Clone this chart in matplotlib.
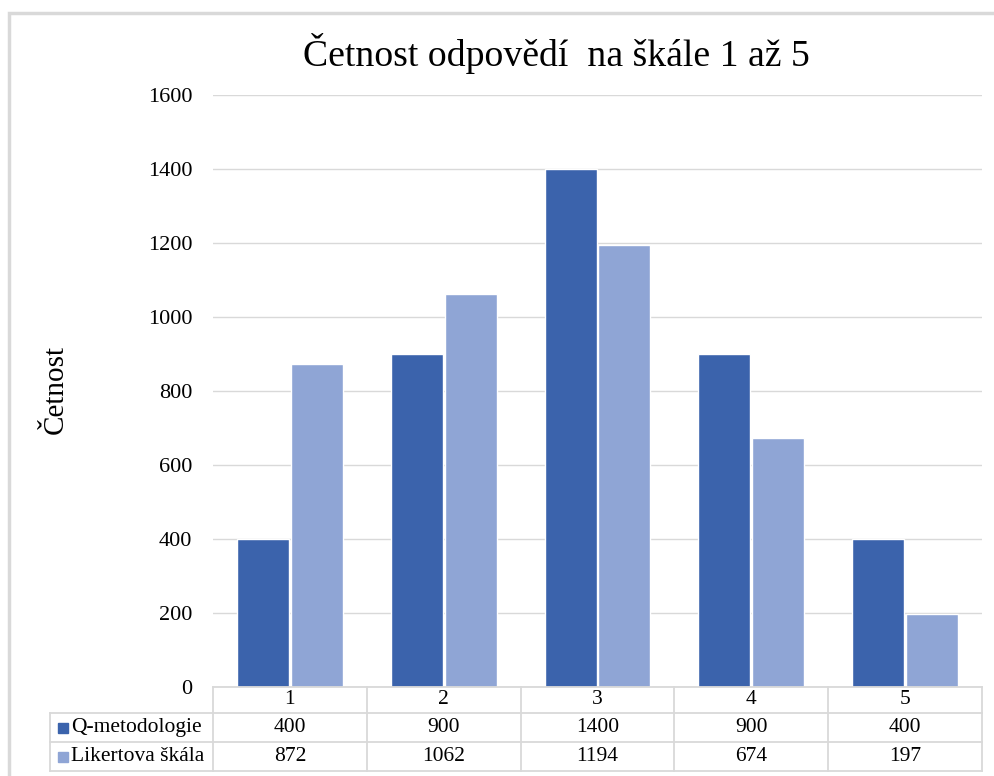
import matplotlib.pyplot as plt
from matplotlib.patches import Rectangle
from matplotlib.lines import Line2D
from matplotlib.transforms import blended_transform_factory
import numpy as np

plt.rcParams['font.family'] = ['Liberation Serif', 'DejaVu Serif']

categories = ['1', '2', '3', '4', '5']
series_names = ['Q-metodologie', 'Likertova škála']
q_values = [400, 900, 1400, 900, 400]
likert_values = [872, 1062, 1194, 674, 197]
colors = ['#3B63AC', '#8FA5D5']
title = 'Četnost odpovědí  na škále 1 až 5'
ylabel = 'Četnost'
yticks = [0, 200, 400, 600, 800, 1000, 1200, 1400, 1600]

W, H = 994, 776
fig = plt.figure(figsize=(W / 100, H / 100), dpi=100)

def fx(px):
    return px / W

def fy(py):
    return 1 - py / H

ax = fig.add_axes([fx(213), fy(687), fx(982) - fx(213), fy(95) - fy(687)])

x = np.arange(len(categories))
width = 0.338
off = 0.175
ax.bar(x - off, q_values, width, color=colors[0], edgecolor='white', linewidth=1, zorder=3)
ax.bar(x + off, likert_values, width, color=colors[1], edgecolor='white', linewidth=1, zorder=3)

ax.set_xlim(-0.5, len(categories) - 0.5)
ax.set_ylim(0, 1600)
ax.set_yticks(yticks)
ax.set_yticklabels([str(t) for t in yticks], fontsize=16)
ax.tick_params(axis='y', length=0, pad=15)
ax.set_xticks([])
for s in ax.spines.values():
    s.set_visible(False)
ax.yaxis.grid(True, color='#d9d9d9', linewidth=1, zorder=0)
ax.set_axisbelow(True)

# outer chart frame
fig.patches.append(Rectangle((fx(9), -0.1), 1.2, fy(13) + 0.1, transform=fig.transFigure,
                             fill=False, edgecolor='#d9d9d9', linewidth=2.5))

fig.text(fx(556), fy(54), title, fontsize=27.2, ha='center', va='center')
fig.text(fx(56), fy(389), ylabel, fontsize=21, rotation=90, ha='center', va='center')

# data table under the plot
tr = blended_transform_factory(ax.transData, fig.transFigure)
line_kw = dict(color='#d9d9d9', linewidth=1.3, clip_on=False)
row_tops = [687, 713, 742, 771]
n = len(categories)
left_x = -0.5 + (50 - 213) / ((982 - 213) / n)
# horizontal lines
fig.add_artist(Line2D([-0.5, n - 0.5], [fy(row_tops[0])] * 2, transform=tr, **line_kw))
for py in row_tops[1:]:
    fig.add_artist(Line2D([left_x, n - 0.5], [fy(py)] * 2, transform=tr, **line_kw))
# vertical lines
for k in range(n + 1):
    fig.add_artist(Line2D([k - 0.5] * 2, [fy(row_tops[0]), fy(row_tops[-1])], transform=tr, **line_kw))
fig.add_artist(Line2D([left_x] * 2, [fy(row_tops[1]), fy(row_tops[-1])], transform=tr, **line_kw))

row_centers = [(row_tops[i] + row_tops[i + 1]) / 2 for i in range(3)]
fs_table = 15.5
for i, c in enumerate(categories):
    ax.text(i, fy(row_centers[0]), c, transform=tr, fontsize=fs_table, ha='center', va='center')
    ax.text(i, fy(row_centers[1]), str(q_values[i]), transform=tr, fontsize=fs_table, ha='center', va='center')
    ax.text(i, fy(row_centers[2]), str(likert_values[i]), transform=tr, fontsize=fs_table, ha='center', va='center')

for r, (name, col) in enumerate(zip(series_names, colors)):
    cy = row_centers[r + 1]
    fig.patches.append(Rectangle((fx(58), fy(cy + 5)), fx(68) - fx(58), fy(cy - 5) - fy(cy + 5),
                                 transform=fig.transFigure, color=col))
    fig.text(fx(71), fy(cy), name, fontsize=fs_table, ha='left', va='center')

fig.savefig('out.png', dpi=100)
